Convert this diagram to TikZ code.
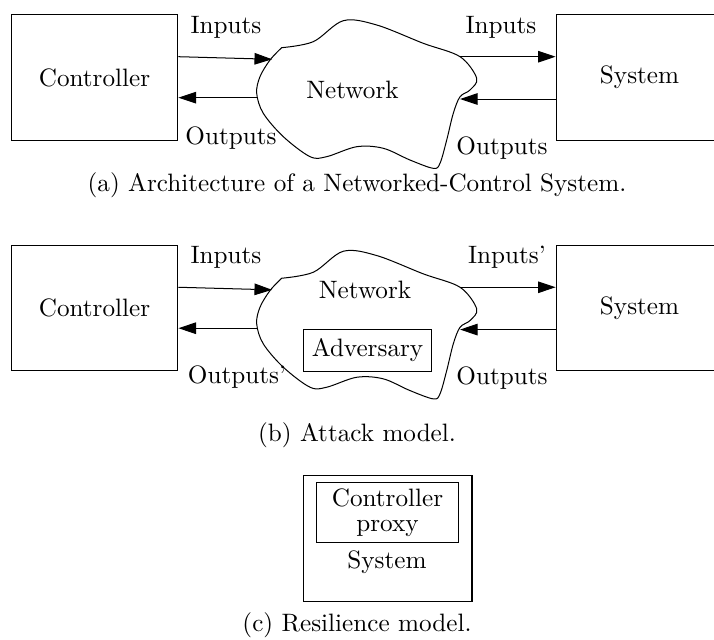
\documentclass[tikz,border=0pt]{standalone}
\usepackage{tikz}
\usetikzlibrary{arrows.meta, positioning, calc}

\tikzset{
  block/.style={draw, rectangle, minimum width=2.33cm, minimum height=1.75cm},
  conn/.style={-{Triangle[length=7pt, width=4.6pt]}},
}

\begin{document}
\begin{tikzpicture}
        \clip (0,0) rectangle (9.972,-8.925);
        % Controller, network and system, twice
        \foreach \dy/\tag/\inR/\inx in {0/a/Inputs/6.997, -3.22/b/Inputs'/7.081} {
        \node[block] (ctrl\tag) at (1.32,{-1.082+\dy}) {Controller};
        \node[block] (sys\tag) at (8.932,{-1.082+\dy}) {System};
        \draw[yshift=\dy cm] plot[smooth, tension=0.55] coordinates {(3.934,-0.666) (4.376,-0.582) (4.795,-0.289)
                (5.261,-0.349) (5.912,-0.605) (6.425,-0.792) (6.658,-1.094) (6.564,-1.257) (6.425,-1.351)
                (6.331,-1.582) (6.239,-1.955) (6.145,-2.281) (6.052,-2.351) (5.726,-2.235) (5.353,-2.071)
                (4.982,-2.049) (4.563,-2.188) (4.330,-2.188) (3.957,-1.909) (3.677,-1.582) (3.585,-1.303)
                (3.631,-1.071) (3.771,-0.838) (3.934,-0.666)} -- cycle;
        \coordinate (cin\tag) at (3.80,{-0.828+\dy});
        \coordinate (cout\tag) at (3.589,{-1.364+\dy});
        \coordinate (sin\tag) at (6.425,{-0.792+\dy});
        \coordinate (sout\tag) at (6.425,{-1.383+\dy});
        \draw[conn] ([yshift=0.29cm]ctrl\tag.east) -- (cin\tag);
        \draw[conn] (cout\tag) -- (ctrl\tag.east |- cout\tag);
        \draw[conn] (sin\tag) -- (sys\tag.west |- sin\tag);
        \draw[conn] (sys\tag.west |- sout\tag) -- (sout\tag);
        \node (lin\tag) at (3.156,{-0.377+\dy}) {Inputs};
        \node (rin\tag) at (\inx,{-0.377+\dy}) {\inR};
        \node (rout\tag) at (7.011,{-2.067+\dy}) {Outputs};
        }
        \node (lout) at (3.226,-1.927) {Outputs};
        \node (loutb) at (3.31,-5.265) {Outputs'};

        % Network labels
        \node (neta) at (4.923,-1.257) {Network};
        \node (netb) at (5.098,-4.05) {Network};
        \node[draw, minimum height=0.6cm] (adv) at (5.133,-4.895) {Adversary};

        % Resilience model
        \node[block, minimum width=2.36cm, minimum height=1.77cm] (sysc) at (5.412,-7.521) {};
        \node[draw, align=center, minimum width=1.97cm, minimum height=0.85cm, inner sep=1pt] (proxy) at (5.412,-7.158) {Controller\\[-2pt]proxy};
        \node (sysctext) at (5.405,-7.849) {System};

        % Captions
        \node (capa) at (4.986,-2.584) {(a) Architecture of a Networked-Control System.};
        \node (capb) at (4.986,-6.075) {(b) Attack model.};
        \node (capc) at (4.986,-8.729) {(c) Resilience model.};
    \end{tikzpicture}
\end{document}
